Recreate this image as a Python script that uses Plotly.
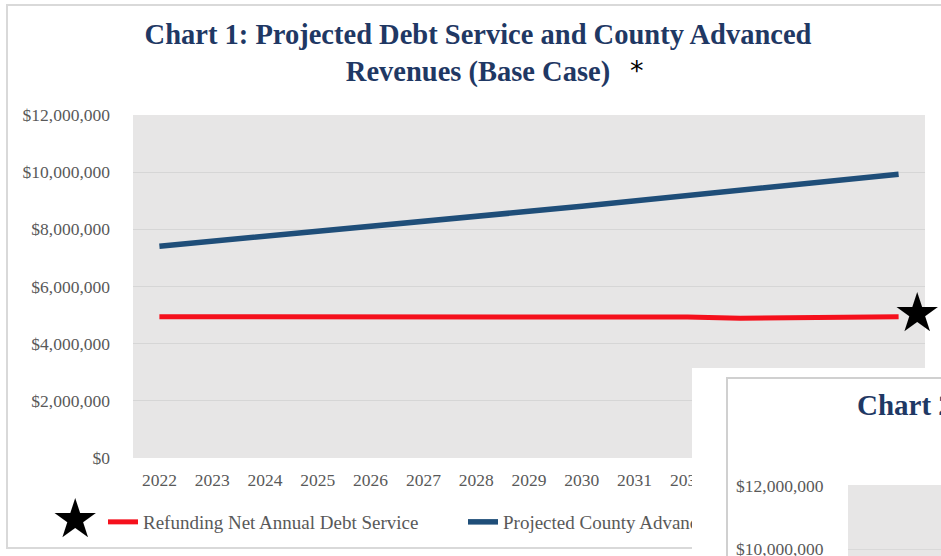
import plotly.graph_objects as go

years = [str(y) for y in range(2022, 2037)]
debt_service = [4.94e6, 4.94e6, 4.94e6, 4.94e6, 4.94e6, 4.94e6, 4.94e6, 4.94e6,
                4.94e6, 4.94e6, 4.93e6, 4.89e6, 4.91e6, 4.94e6, 4.94e6]
county_revenues = [7.41e6, 7.58e6, 7.75e6, 7.91e6, 8.08e6, 8.26e6, 8.44e6, 8.63e6,
                   8.81e6, 9.00e6, 9.18e6, 9.36e6, 9.55e6, 9.74e6, 9.93e6]
y_ticks = [0, 2e6, 4e6, 6e6, 8e6, 10e6, 12e6]
y_tick_labels = ["$0", "$2,000,000", "$4,000,000", "$6,000,000", "$8,000,000",
                 "$10,000,000", "$12,000,000"]

W, H = 941, 556
L, R, T, B = 133, 16, 115, 98
PW, PH = W - L - R, H - T - B


def px(x):
    return (x - L) / PW


def py(y):
    return (H - B - y) / PH


SERIF = "Liberation Serif, Times New Roman, serif"
GREY_TXT = "#595959"
NAVY = "#1F3864"

fig = go.Figure()
fig.add_trace(go.Scatter(x=years, y=debt_service, mode="lines",
                         name="Refunding Net Annual Debt Service",
                         line=dict(color="#F5101C", width=5)))
fig.add_trace(go.Scatter(x=years, y=county_revenues, mode="lines",
                         name="Projected County Advanced Revenues",
                         line=dict(color="#1F4E79", width=5.5)))

shapes = [
    # outer frame of chart 1
    dict(type="rect", xref="paper", yref="paper", x0=px(7), x1=px(960), y0=py(548), y1=py(5),
         line=dict(color="#D9D9D9", width=2), fillcolor="rgba(0,0,0,0)", layer="below"),
]


def box(x, y, w, h, color, **kw):
    d = dict(text=" ", x=px(x), y=py(y), xref="paper", yref="paper", xanchor="left",
             yanchor="top", width=w, height=h, bgcolor=color, borderpad=0, borderwidth=0,
             showarrow=False)
    d.update(kw)
    return d


annotations = [
    dict(text="*", x=px(637), y=py(71), xref="paper", yref="paper", showarrow=False,
         xanchor="center", yanchor="middle",
         font=dict(family="DejaVu Sans", size=27, color="black")),
    dict(text="★", x=px(917), y=py(312), xref="paper", yref="paper", showarrow=False,
         xanchor="center", yanchor="middle",
         font=dict(family="DejaVu Sans", size=54, color="black")),
    dict(text="★", x=px(75), y=py(518), xref="paper", yref="paper", showarrow=False,
         xanchor="center", yanchor="middle",
         font=dict(family="DejaVu Sans", size=54, color="black")),
    # overlay of chart 2 (white page area and its frame)
    box(692, 368, 249, 188, "white"),
    box(726, 377, 215, 179, "white", bordercolor="#D0D0D0", borderwidth=2),
    box(848, 485, 93, 71, "#E7E6E6"),
    box(848, 549, 93, 1, "#D9D9D9"),
    dict(text="<b>Chart 2</b>", x=px(855), y=py(405), xref="paper", yref="paper",
         xanchor="left", yanchor="middle", showarrow=False,
         font=dict(family=SERIF, size=29, color=NAVY)),
    dict(text="$12,000,000", x=px(826), y=py(486), xref="paper", yref="paper",
         xanchor="right", yanchor="middle", showarrow=False,
         font=dict(family=SERIF, size=17.5, color=GREY_TXT)),
    dict(text="$10,000,000", x=px(826), y=py(549), xref="paper", yref="paper",
         xanchor="right", yanchor="middle", showarrow=False,
         font=dict(family=SERIF, size=17.5, color=GREY_TXT)),
]

fig.update_layout(
    width=W, height=H,
    margin=dict(l=L, r=R, t=T, b=B),
    paper_bgcolor="white",
    plot_bgcolor="#E7E6E6",
    title=dict(text="<b>Chart 1: Projected Debt Service and County Advanced<br>Revenues (Base Case)</b>",
               x=478 / W, xanchor="center", y=1 - 44 / H, yanchor="middle",
               font=dict(family=SERIF, size=28.5, color=NAVY)),
    xaxis=dict(type="category", range=[-0.5, len(years) - 0.5], showgrid=False,
               zeroline=False, showline=False, ticks="",
               tickfont=dict(family=SERIF, size=17.5, color=GREY_TXT), ticklabelstandoff=9,
               fixedrange=True),
    yaxis=dict(range=[0, 12e6], tickvals=y_ticks, ticktext=y_tick_labels,
               showgrid=True, gridcolor="#D6D6D6", gridwidth=1, zeroline=False,
               ticks="", ticklabelstandoff=22,
               tickfont=dict(family=SERIF, size=17.5, color=GREY_TXT)),
    legend=dict(orientation="h", x=px(103), xanchor="left", y=py(522), yanchor="middle",
                font=dict(family=SERIF, size=19, color=GREY_TXT),
                entrywidth=315, entrywidthmode="pixels", bgcolor="rgba(0,0,0,0)"),
    shapes=shapes,
    annotations=annotations,
    showlegend=True,
)

fig.write_html("out.html")
